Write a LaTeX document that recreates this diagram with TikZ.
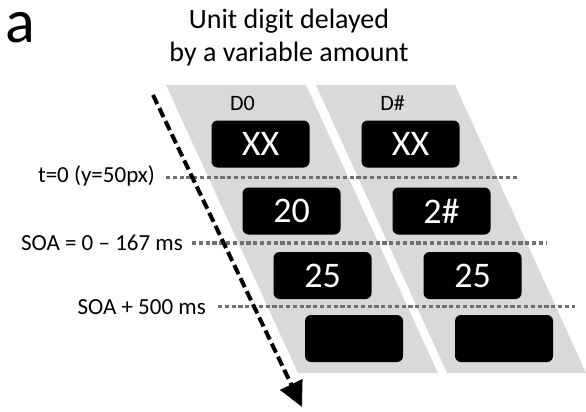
\documentclass[tikz,border=0pt]{standalone}
\usepackage{fontspec}
\setmainfont{Carlito}
\usetikzlibrary{
  arrows.meta,
  positioning,
}
\definecolor{lanegray}{RGB}{217, 217, 217}
\definecolor{markgray}{RGB}{112, 112, 112}
\tikzstyle{lane} = [
  fill=lanegray,
]
\tikzstyle{screen} = [
  fill=black,
  rounded corners=6pt,
  minimum width=98pt,
  minimum height=47pt,
  inner sep=0pt,
  text=white,
  font=\fontsize{36}{36}\selectfont,
]
\tikzstyle{marker} = [
  line width=3.8pt,
  markgray,
  dash pattern=on 4.2pt off 2.6pt,
]
\tikzstyle{eventtext} = [
  anchor=base east,
  inner sep=0pt,
  font=\fontsize{23}{23}\selectfont,
]
\tikzstyle{timeline} = [
  -{Triangle[length=25pt, width=24pt]},
  line width=4pt,
  dash pattern=on 10pt off 4.5pt,
]

\begin{document}
\begin{tikzpicture}[x=1pt, y=-1pt]

        \useasboundingbox (0,0) rectangle (586,412);

        \fill [lane] (166,85) -- (306,85) -- (438,373) -- (298,373) -- cycle;

        \fill [lane] (316,85) -- (455,85) -- (586,373) -- (447,373) -- cycle;

        \node [anchor=base, inner sep=0pt, font=\fontsize{62}{62}\selectfont] (panel) at (20.5,43) {a};

        \node [anchor=base, inner sep=0pt, font=\fontsize{28}{28}\selectfont] (title) at (289,28.5) {Unit digit delayed};

        \node [anchor=base, inner sep=0pt, font=\fontsize{28}{28}\selectfont] (subtitle) at (289,61.5) {by a variable amount};

        \node [anchor=base, inner sep=0pt, font=\fontsize{22}{22}\selectfont] (d0) at (242.5,110.5) {D0};

        \node [anchor=base, inner sep=0pt, font=\fontsize{22}{22}\selectfont] (dn) at (392.5,110.5) {D\#};

        \foreach \i/\x/\y/\a/\b in {1/260.5/144/XX/XX, 2/291.5/211/20/2\#, 3/322.5/275.5/25/25, 4/354/338.5/{}/{}} {
          \node [screen] (d0-\i) at (\x,\y) {\a};
          \node [screen] (dn-\i) at (\x+150,\y) {\b};
        }

        \node [eventtext] (t0) at (155,182.5) {t=0 (y=50px)};

        \node [eventtext] (soa) at (183,250) {SOA = 0 – 167 ms};

        \node [eventtext] (soaend) at (206,314) {SOA + 500 ms};

        \coordinate (t0-start) at (166,177.5);
        \coordinate (t0-end) at (519,177.5);
        \coordinate (soa-start) at (192,243);
        \coordinate (soa-end) at (547,243);
        \coordinate (soaend-start) at (218,306.5);
        \coordinate (soaend-end) at (575,306.5);

        \draw [marker] (t0-start) -- (t0-end);

        \draw [marker] (soa-start) -- (soa-end);

        \draw [marker] (soaend-start) -- (soaend-end);

        \coordinate (time-start) at (153,95);
        \coordinate (time-end) at (302,407);

        \draw [timeline] (time-start) -- (time-end);
      \end{tikzpicture}
\end{document}
